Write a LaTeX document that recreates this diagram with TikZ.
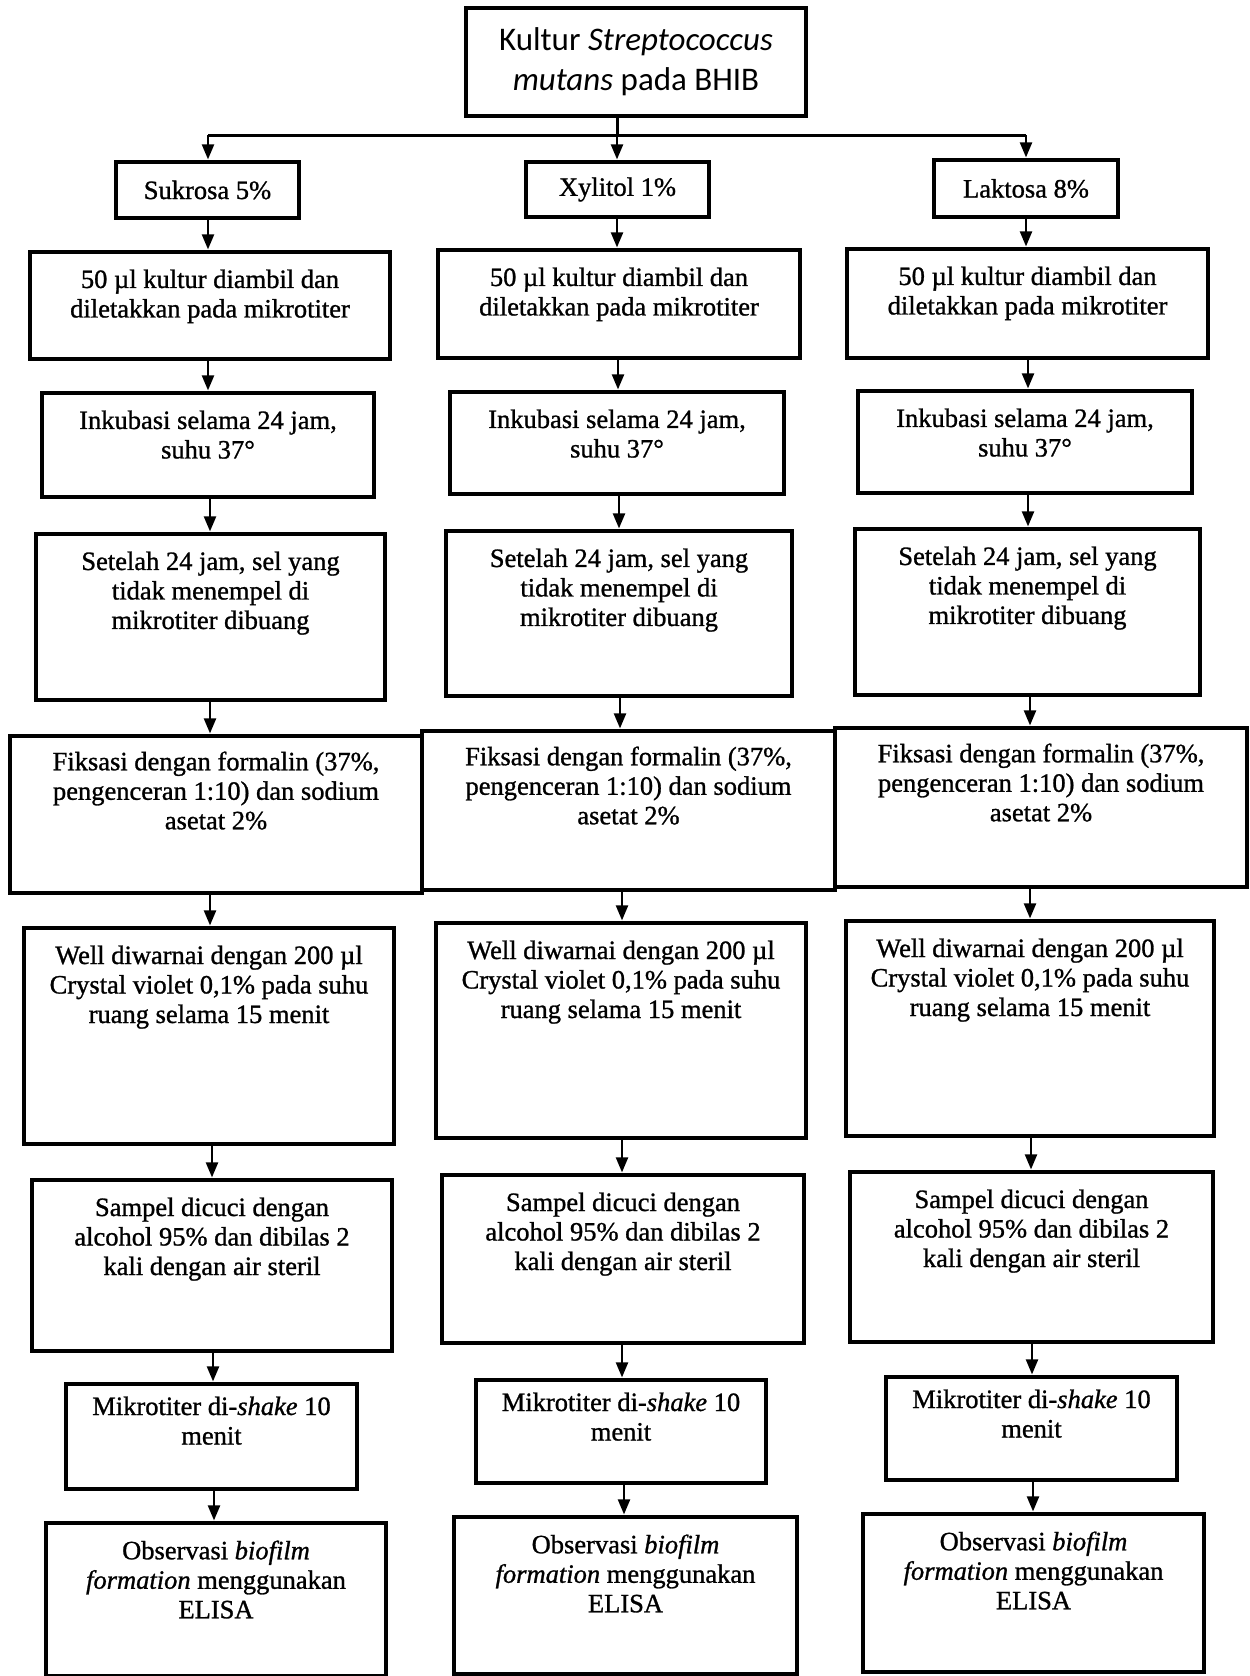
\documentclass[tikz,border=0pt]{standalone}
\usepackage{fontspec}
\setmainfont{Liberation Serif}[FakeBold=1]
\newfontfamily\topfont{Carlito}
\usetikzlibrary{arrows.meta}
\tikzset{
  boxst/.style={draw, line width=3.2pt, inner sep=0pt},
  txt/.style={align=center, inner sep=0pt, font=\fontsize{26.5}{29.5}\selectfont},
  arr/.style={line width=2.2pt, -{Triangle[length=15pt,width=12pt]}, shorten >=1pt},
  plain/.style={line width=3pt},
}
\newcommand\bx[7]{%
  \node[boxst, minimum width={(#4-#2)*1pt}, minimum height={(#5-#3)*1pt}] (#1) at ({(#2+#4)/2},{(#3+#5)/2}) {};
  \node[txt, anchor=north] (#1t) at ([yshift=-#6pt]#1.north) {#7};}
\newcommand\arw[3]{\draw[arr] (#1.south -| #3,0) -- (#2.north -| #3,0);}
\begin{document}
\begin{tikzpicture}[x=1pt,y=-1pt]
\useasboundingbox (0,0) rectangle (1250,1676);
\fill[white] (0,0) rectangle (1250,1676);
% top
\node[boxst, minimum width=340pt, minimum height=108pt, align=center,
  font=\topfont\fontsize{33}{40}\selectfont] (top) at (636,62)
  {Kultur \textit{Streptococcus}\\\textit{mutans} pada BHIB};
\coordinate (hL) at (208,135);
\coordinate (hM) at (617,135);
\coordinate (hR) at (1026,135);
\draw[plain] (top.south -| hM) -- (hM);
\draw[plain] (hL) -- (hR);
% small boxes
\node[boxst, minimum width=183pt, minimum height=56pt, txt] (S) at (207.5,190) {Sukrosa 5\%};
\node[boxst, minimum width=183pt, minimum height=55pt, txt] (X) at (617.5,189.5) {Xylitol 1\%};
\node[boxst, minimum width=184pt, minimum height=57pt, txt] (L) at (1026,188.5) {Laktosa 8\%};
\draw[arr] (hL) -- (S.north -| hL);
\draw[arr] (hM) -- (X.north -| hM);
\draw[arr] (hR) -- (L.north -| hR);
% level 2
\bx{a2}{30}{252}{390}{359}{19}{50 µl kultur diambil dan\\diletakkan pada mikrotiter}
\bx{b2}{438}{250}{800}{358}{19}{50 µl kultur diambil dan\\diletakkan pada mikrotiter}
\bx{c2}{847}{249}{1208}{358}{19}{50 µl kultur diambil dan\\diletakkan pada mikrotiter}
% level 3
\bx{a3}{42}{393}{374}{497}{19}{Inkubasi selama 24 jam,\\suhu 37°}
\bx{b3}{450}{392}{784}{494}{19}{Inkubasi selama 24 jam,\\suhu 37°}
\bx{c3}{858}{391}{1192}{493}{19}{Inkubasi selama 24 jam,\\suhu 37°}
% level 4
\bx{a4}{36}{534}{385}{700}{19}{Setelah 24 jam, sel yang\\tidak menempel di\\mikrotiter dibuang}
\bx{b4}{446}{531}{792}{696}{19}{Setelah 24 jam, sel yang\\tidak menempel di\\mikrotiter dibuang}
\bx{c4}{855}{529}{1200}{695}{19}{Setelah 24 jam, sel yang\\tidak menempel di\\mikrotiter dibuang}
% level 5
\bx{a5}{10}{736}{422}{893}{17}{Fiksasi dengan formalin (37\%,\\pengenceran 1:10) dan sodium\\asetat 2\%}
\bx{b5}{422}{731}{835}{890}{17}{Fiksasi dengan formalin (37\%,\\pengenceran 1:10) dan sodium\\asetat 2\%}
\bx{c5}{835}{728}{1247}{887}{17}{Fiksasi dengan formalin (37\%,\\pengenceran 1:10) dan sodium\\asetat 2\%}
% level 6
\bx{a6}{24}{928}{394}{1144}{19}{Well diwarnai dengan 200 µl\\Crystal violet 0,1\% pada suhu\\ruang selama 15 menit}
\bx{b6}{436}{923}{806}{1138}{19}{Well diwarnai dengan 200 µl\\Crystal violet 0,1\% pada suhu\\ruang selama 15 menit}
\bx{c6}{846}{921}{1214}{1136}{19}{Well diwarnai dengan 200 µl\\Crystal violet 0,1\% pada suhu\\ruang selama 15 menit}
% level 7
\bx{a7}{32}{1180}{392}{1351}{19}{Sampel dicuci dengan\\alcohol 95\% dan dibilas 2\\kali dengan air steril}
\bx{b7}{442}{1175}{804}{1343}{19}{Sampel dicuci dengan\\alcohol 95\% dan dibilas 2\\kali dengan air steril}
\bx{c7}{850}{1172}{1213}{1342}{19}{Sampel dicuci dengan\\alcohol 95\% dan dibilas 2\\kali dengan air steril}
% level 8
\bx{a8}{66}{1384}{357}{1489}{14}{Mikrotiter di-\textit{shake} 10\\menit}
\bx{b8}{476}{1380}{766}{1483}{14}{Mikrotiter di-\textit{shake} 10\\menit}
\bx{c8}{886}{1377}{1177}{1480}{14}{Mikrotiter di-\textit{shake} 10\\menit}
% level 9
\bx{a9}{46}{1523}{386}{1676}{19}{Observasi \textit{biofilm}\\\textit{formation} menggunakan\\ELISA}
\bx{b9}{454}{1517}{797}{1674}{19}{Observasi \textit{biofilm}\\\textit{formation} menggunakan\\ELISA}
\bx{c9}{863}{1514}{1204}{1672}{19}{Observasi \textit{biofilm}\\\textit{formation} menggunakan\\ELISA}
% arrows
\arw{S}{a2}{208}\arw{X}{b2}{617}\arw{L}{c2}{1026}
\arw{a2}{a3}{208}\arw{b2}{b3}{618}\arw{c2}{c3}{1028}
\arw{a3}{a4}{210}\arw{b3}{b4}{619}\arw{c3}{c4}{1028}
\arw{a4}{a5}{210}\arw{b4}{b5}{620}\arw{c4}{c5}{1030}
\arw{a5}{a6}{210}\arw{b5}{b6}{622}\arw{c5}{c6}{1030}
\arw{a6}{a7}{212}\arw{b6}{b7}{622}\arw{c6}{c7}{1031}
\arw{a7}{a8}{213}\arw{b7}{b8}{622}\arw{c7}{c8}{1032}
\arw{a8}{a9}{214}\arw{b8}{b9}{624}\arw{c8}{c9}{1033}
\end{tikzpicture}
\end{document}
